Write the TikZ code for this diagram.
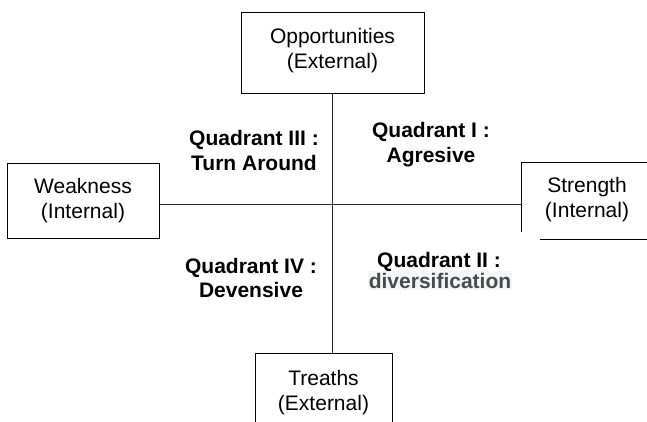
\documentclass[tikz,border=0pt]{standalone}
\usepackage{fontspec}
\setmainfont{Liberation Sans}
\usetikzlibrary{calc}
\definecolor{hlbg}{HTML}{F3F5F8}
\definecolor{hltxt}{HTML}{4A4A4A}
\begin{document}
\begin{tikzpicture}[x=1pt,y=-1pt,
  boxline/.style={draw=black,line width=1pt},
  plainbox/.style={minimum width=#1,inner sep=0pt},
  txt/.style={font=\fontsize{21}{25}\selectfont,inner sep=0pt,anchor=base},
  btxt/.style={font=\fontsize{21}{25}\selectfont\bfseries,inner sep=0pt,anchor=base},
  axis/.style={draw=black!85,line width=1pt}]
\useasboundingbox (0,0) rectangle (647,421);
% boxes
\node[boxline,minimum width=183pt,minimum height=81pt,inner sep=0pt] (opp) at (332.5,52.5) {};
\node[boxline,minimum width=152pt,minimum height=75pt,inner sep=0pt] (wk) at (83,200.5) {};
\node[minimum width=130pt,minimum height=76pt,inner sep=0pt] (str) at (587,201) {};
\node[boxline,minimum width=137pt,minimum height=81pt,inner sep=0pt] (tre) at (323.5,393.5) {};
\draw[boxline] ($(str.south west)+(0,-7)$) -- (str.north west) -- (str.north east);
\draw[boxline] ($(str.south west)+(18,0)$) -- (str.south east);
% axes
\coordinate (c) at (332,204);
\draw[axis] (opp.south -| c) -- (tre.north -| c);
\draw[axis] (wk.east |- c) -- (str.west |- c);
% box texts
\node[txt] (opp1) at (332.5,43) {Opportunities};
\node[txt] (opp2) at (332.5,68) {(External)};
\node[txt] (wk1) at (83,193) {Weakness};
\node[txt] (wk2) at (83,218) {(Internal)};
\node[txt] (str1) at (587,192) {Strength};
\node[txt] (str2) at (587,217) {(Internal)};
\node[txt] (tre1) at (323.5,385) {Treaths};
\node[txt] (tre2) at (323.5,410) {(External)};
% quadrant texts
\node[btxt] (q3a) at (254,145) {Quadrant III :};
\node[btxt] (q3b) at (254,170) {Turn Around};
\node[btxt] (q1a) at (431,137) {Quadrant I :};
\node[btxt] (q1b) at (431,162) {Agresive};
\node[btxt] (q4a) at (251,273) {Quadrant IV :};
\node[btxt] (q4b) at (251,297) {Devensive};
\node[btxt] (q2a) at (439,267) {Quadrant II :};
\node[btxt,fill=hlbg,text=hltxt,inner xsep=1pt,inner ysep=2pt] (q2b) at (440,288) {diversification};
\end{tikzpicture}
\end{document}
